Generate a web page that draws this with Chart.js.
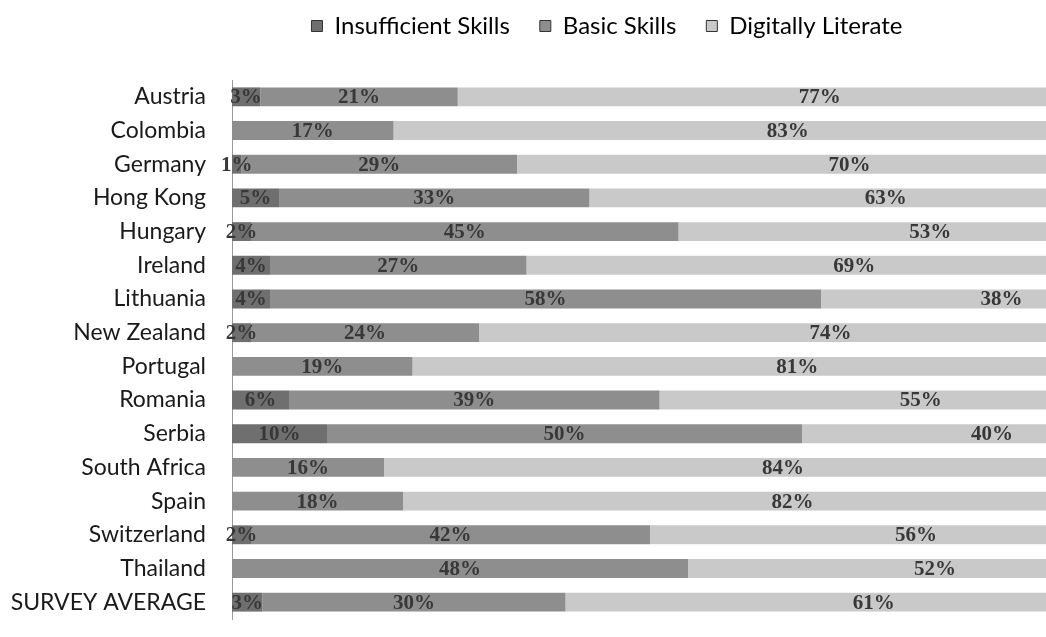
<!DOCTYPE html>
<html>
<head>
<meta charset="utf-8">
<title>Digital skills by country</title>
<script src="https://cdn.jsdelivr.net/npm/chart.js@4/dist/chart.umd.min.js"></script>
<style>
  html, body { margin: 0; padding: 0; background: #fff; overflow: hidden; }
  #wrap { width: 1046px; height: 637px; overflow: hidden; }
</style>
</head>
<body>
<div id="wrap">
  <canvas id="skillsChart" width="1280" height="637"></canvas>
</div>
<script>
// Countries (top to bottom) and the three skill levels, in percent
const countries = ['Austria', 'Colombia', 'Germany', 'Hong Kong', 'Hungary', 'Ireland', 'Lithuania',
  'New Zealand', 'Portugal', 'Romania', 'Serbia', 'South Africa', 'Spain', 'Switzerland',
  'Thailand', 'SURVEY AVERAGE'];
const insufficient = [3, 0, 1, 5, 2, 4, 4, 2, 0, 6, 10, 0, 0, 2, 0, 3];
const basic = [21, 17, 29, 33, 45, 27, 58, 24, 19, 39, 50, 16, 18, 42, 48, 30];
const literate = [77, 83, 70, 63, 53, 69, 38, 74, 81, 55, 40, 84, 82, 56, 52, 61];

const seriesNames = ['Insufficient Skills', 'Basic Skills', 'Digitally Literate'];
const seriesColors = ['#6f6f6f', '#8e8e8e', '#c9c9c9'];

// 100% stacked: each row is scaled to its own total, labels keep the raw value
const rawSeries = [insufficient, basic, literate];
const totals = countries.map((_, i) => insufficient[i] + basic[i] + literate[i]);
const datasets = rawSeries.map((vals, s) => ({
  label: seriesNames[s],
  data: vals.map((v, i) => v / totals[i] * 100),
  raw: vals,
  backgroundColor: seriesColors[s],
  borderWidth: 0,
  categoryPercentage: 1,
  barPercentage: 0.56
}));

// draw the value labels in the middle of each segment
const segmentLabels = {
  id: 'segmentLabels',
  afterDatasetsDraw(chart) {
    const ctx = chart.ctx;
    ctx.save();
    ctx.font = 'bold 21px "Liberation Serif", serif';
    ctx.fillStyle = '#383838';
    ctx.textAlign = 'center';
    ctx.textBaseline = 'middle';
    chart.data.datasets.forEach((ds, d) => {
      chart.getDatasetMeta(d).data.forEach((bar, i) => {
        const v = ds.raw[i];
        if (!v) return;
        ctx.fillText(v + '%', (bar.x + bar.base) / 2, bar.y + 1);
      });
    });
    ctx.restore();
  }
};

// extra room under the legend, and the legend moved right (the source chart is cropped)
const legendTweak = {
  id: 'legendTweak',
  beforeInit(chart) {
    const fit = chart.legend.fit;
    chart.legend.fit = function () {
      fit.bind(chart.legend)();
      this.height += 32;
    };
  },
  afterLayout(chart) {
    chart.legend.left += 16;
    chart.legend.right += 16;
  }
};

new Chart(document.getElementById('skillsChart'), {
  type: 'bar',
  data: { labels: countries, datasets: datasets },
  options: {
    indexAxis: 'y',
    responsive: false,
    animation: false,
    layout: { padding: { left: 0, right: 98, top: -16, bottom: 18 } },
    plugins: {
      legend: {
        position: 'top',
        labels: {
          boxWidth: 11,
          boxHeight: 11,
          padding: 30,
          color: '#222',
          font: { family: 'Lato', size: 24 },
          generateLabels(chart) {
            return chart.data.datasets.map((ds, i) => ({
              text: ds.label,
              fillStyle: ds.backgroundColor,
              strokeStyle: '#333',
              lineWidth: 1,
              datasetIndex: i
            }));
          }
        }
      },
      tooltip: { enabled: false }
    },
    scales: {
      x: { stacked: true, min: 0, max: 100, display: false },
      y: {
        stacked: true,
        grid: { display: false },
        border: { display: true, color: '#9a9a9a', width: 1 },
        ticks: {
          color: '#1a1a1a',
          padding: 18,
          font: { family: 'Lato', size: 23 }
        },
        afterFit(scale) {
          scale.width = 232;
          scale.paddingTop = 0;
          scale.paddingBottom = 0;
        }
      }
    }
  },
  plugins: [segmentLabels, legendTweak]
});
</script>
</body>
</html>
